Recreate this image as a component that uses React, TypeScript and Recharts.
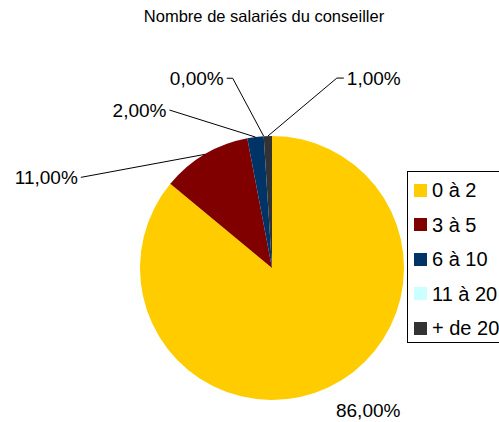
import React from "react";
import { PieChart, Pie, Cell, Legend } from "recharts";

const categories = ["0 à 2", "3 à 5", "6 à 10", "11 à 20", "+ de 20"];
const values = [86, 11, 2, 0, 1];
const colors = ["#FFCC00", "#800000", "#003366", "#CCFFFF", "#333333"];
const title = "Nombre de salariés du conseiller";

const data = categories.map((name, i) => ({ name, value: values[i] }));

// label placement relative to slice's outer midpoint
const labelPos = [
  { dx: 40, dy: 23, anchor: "middle", line: false, elbow: null },
  { dx: -127, dy: 23, anchor: "end", line: true, elbow: null },
  { dx: -89, dy: -27, anchor: "end", line: true, elbow: null },
  { dx: -40, dy: -58, anchor: "end", line: true, elbow: { dx: -31 } },
  { dx: 79, dy: -58, anchor: "start", line: true, elbow: { dx: 69 } },
];

const FONT = "'Liberation Sans', Arial, sans-serif";
const RAD = Math.PI / 180;

const renderLabel = (props: any) => {
  const { cx, cy, midAngle, outerRadius, index, value } = props;
  const p = labelPos[index];
  const ax = cx + outerRadius * Math.cos(-midAngle * RAD);
  const ay = cy + outerRadius * Math.sin(-midAngle * RAD);
  const tx = ax + p.dx;
  const ty = ay + p.dy;
  const text = value.toFixed(2).replace(".", ",") + "%";
  let path = "";
  if (p.line) {
    const endX = p.anchor === "end" ? tx + 3 : tx - 3;
    if (p.elbow) {
      const ex = ax + p.elbow.dx;
      path = `M${ax},${ay} L${ex},${ty} L${endX},${ty}`;
    } else {
      path = `M${ax},${ay} L${endX},${ty}`;
    }
  }
  return (
    <g key={`lbl-${index}`}>
      {p.line && <path d={path} stroke="#000" strokeWidth={1} fill="none" />}
      <text
        x={tx}
        y={ty}
        textAnchor={p.anchor}
        dominantBaseline="central"
        fontFamily={FONT}
        fontSize={19}
        fill="#000"
      >
        {text}
      </text>
    </g>
  );
};

const LegendContent = () => (
  <div
    style={{
      border: "1px solid #000",
      background: "#fff",
      width: 110,
      height: 172,
      boxSizing: "border-box",
      paddingTop: 1,
      fontFamily: FONT,
      fontSize: 20,
    }}
  >
    {categories.map((c, i) => (
      <div
        key={c}
        style={{ display: "flex", alignItems: "center", height: 34.5, paddingLeft: 6 }}
      >
        <span
          style={{
            display: "inline-block",
            width: 13,
            height: 13,
            background: colors[i],
            marginRight: 5,
          }}
        />
        <span style={{ whiteSpace: "nowrap", lineHeight: "20px" }}>{c}</span>
      </div>
    ))}
  </div>
);

export default function App() {
  return (
    <div
      style={{
        position: "absolute",
        left: 0,
        top: 0,
        width: 499,
        height: 422,
        overflow: "hidden",
        background: "#fff",
      }}
    >
      <div
        style={{
          position: "absolute",
          left: 0,
          width: 528,
          top: 7,
          textAlign: "center",
          fontFamily: FONT,
          fontSize: 16.5,
          color: "#000",
          zIndex: 2,
        }}
      >
        {title}
      </div>
      <PieChart width={499} height={422} margin={{ top: 0, right: 0, bottom: 0, left: 0 }}>
        <Pie
          data={data}
          dataKey="value"
          nameKey="name"
          cx={272}
          cy={268}
          outerRadius={132}
          startAngle={90}
          endAngle={-270}
          stroke="none"
          label={renderLabel}
          labelLine={false}
          isAnimationActive={false}
        >
          {data.map((d, i) => (
            <Cell key={d.name} fill={colors[i]} />
          ))}
        </Pie>
        <Legend
          content={<LegendContent />}
          wrapperStyle={{ position: "absolute", left: 407, top: 171, width: 110 }}
        />
      </PieChart>
    </div>
  );
}
